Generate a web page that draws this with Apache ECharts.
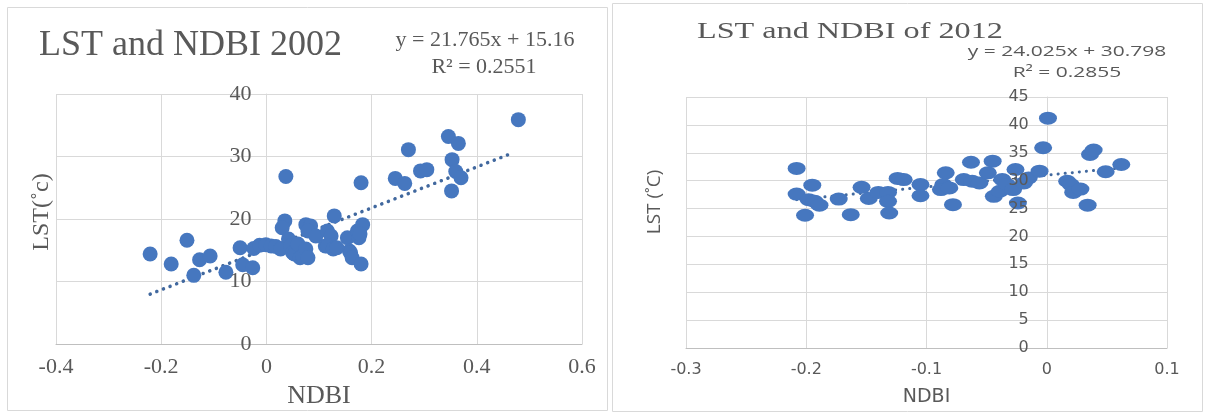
<!DOCTYPE html>
<html>
<head>
<meta charset="utf-8">
<script src="https://cdn.jsdelivr.net/npm/echarts@6/dist/echarts.min.js"></script>
<style>
  html, body { margin: 0; padding: 0; background: #fff; }
  #chart { width: 1205px; height: 414px; }
</style>
</head>
<body>
<div id="chart"></div>
<script>
  // 2002 points: [NDBI, LST]
  const points2002 = [
    [-0.221, 14.4], [-0.181, 12.8], [-0.151, 16.6], [-0.138, 11.0], [-0.127, 13.5],
    [-0.107, 14.1], [-0.077, 11.5], [-0.050, 15.4], [-0.045, 12.7], [-0.026, 12.2],
    [-0.024, 15.3], [-0.013, 15.8], [-0.001, 15.9], [0.009, 15.7], [0.018, 15.6],
    [0.027, 15.2], [0.037, 26.8], [0.035, 19.7], [0.030, 18.6], [0.042, 16.8],
    [0.046, 15.7], [0.050, 14.6], [0.053, 14.4], [0.060, 16.0], [0.064, 13.8],
    [0.069, 14.1], [0.075, 15.2], [0.079, 13.8], [0.075, 19.1], [0.084, 18.9],
    [0.079, 18.1], [0.094, 17.3], [0.112, 15.7], [0.116, 18.1], [0.123, 17.3],
    [0.116, 15.7], [0.127, 15.2], [0.129, 20.5], [0.134, 15.4], [0.154, 17.0],
    [0.158, 14.9], [0.160, 14.6], [0.163, 13.8], [0.173, 18.1], [0.176, 17.0],
    [0.180, 12.8], [0.180, 25.8], [0.183, 19.1], [0.178, 17.6], [0.245, 26.5],
    [0.263, 25.7], [0.270, 31.1], [0.293, 27.7], [0.305, 27.9], [0.346, 33.2],
    [0.365, 32.1], [0.353, 29.5], [0.352, 24.5], [0.360, 27.6], [0.370, 26.6],
    [0.479, 35.9]
  ]
  // 2012 points: [NDBI, LST]
  const points2012 = [
    [-0.208, 32.2], [-0.208, 27.6], [-0.201, 23.8], [-0.195, 29.2], [-0.198, 26.6],
    [-0.193, 26.3], [-0.189, 25.6], [-0.173, 26.7], [-0.163, 23.9], [-0.154, 28.8],
    [-0.148, 26.8], [-0.140, 27.9], [-0.132, 27.9], [-0.132, 26.3], [-0.131, 24.2],
    [-0.124, 30.4], [-0.119, 30.2], [-0.105, 29.3], [-0.105, 27.3], [-0.084, 31.4],
    [-0.086, 29.3], [-0.088, 28.4], [-0.081, 28.7], [-0.078, 25.7], [-0.069, 30.2],
    [-0.063, 33.3], [-0.062, 29.9], [-0.056, 29.6], [-0.049, 31.4], [-0.045, 33.5],
    [-0.044, 27.2], [-0.039, 28.1], [-0.037, 30.2], [-0.033, 29.3], [-0.026, 32.0],
    [-0.028, 28.4], [-0.019, 29.6], [-0.024, 26.0], [-0.015, 30.5], [-0.006, 31.7],
    [-0.003, 35.9], [0.001, 41.2], [0.017, 29.9], [0.020, 29.3], [0.022, 27.9],
    [0.028, 28.5], [0.034, 25.6], [0.036, 34.7], [0.039, 35.5], [0.049, 31.6],
    [0.062, 32.9]
  ]

  // dotted trend lines, end points
  const trend2002 = [[-0.221, 8.0], [0.469, 30.6]]
  const trend2012 = [[-0.208, 26.6], [0.062, 32.3]]

  // axis ranges: [min, max, interval]
  const xRange2002 = [-0.4, 0.6, 0.2]
  const yRange2002 = [0, 40, 10]
  const xRange2012 = [-0.3, 0.1, 0.1]
  const yRange2012 = [0, 45, 5]

  const serif = 'Liberation Serif'
  const sans = 'Open Sans'
  const textColor = '#595959'
  const gridColor = '#d9d9d9'
  const dotColor = '#4677bf'

  const grid1 = { left: 56, top: 94, width: 526, height: 251 }
  const grid2 = { left: 686, top: 97, width: 481, height: 251 }

  // vertical axis crosses at NDBI = 0, like in Excel: shift it inside the plot
  const zeroOffset = (g, r) => -g.width * (0 - r[0]) / (r[1] - r[0])

  // y axis: one for the grid lines (under the dots), one only for the labels (over the dots)
  const yAxisPair = (gridIndex, grid, xr, yr, labelStyle) => [{
    gridIndex: gridIndex,
    type: 'value',
    position: 'left',
    offset: zeroOffset(grid, xr),
    min: yr[0], max: yr[1], interval: yr[2],
    axisLine: { show: true, onZero: false, lineStyle: { color: gridColor } },
    axisTick: { show: false },
    axisLabel: { show: false },
    splitLine: { show: true, lineStyle: { color: gridColor } }
  }, {
    gridIndex: gridIndex,
    type: 'value',
    position: 'left',
    offset: zeroOffset(grid, xr),
    min: yr[0], max: yr[1], interval: yr[2],
    z: 10,
    axisLine: { show: false, onZero: false },
    axisTick: { show: false },
    axisLabel: labelStyle,
    splitLine: { show: false }
  }]

  const y1 = yAxisPair(0, grid1, xRange2002, yRange2002,
    { fontFamily: serif, fontSize: 22, color: textColor, margin: 15 })
  const y2 = yAxisPair(1, grid2, xRange2012, yRange2012,
    { fontFamily: 'DejaVu Sans', fontSize: 16, color: textColor, margin: 18 })

  let chart = echarts.init(document.getElementById('chart'))

  chart.setOption({
    animation: false,
    grid: [grid1, grid2],
    xAxis: [{
      gridIndex: 0,
      type: 'value',
      min: xRange2002[0], max: xRange2002[1], interval: xRange2002[2],
      name: 'NDBI',
      nameLocation: 'middle',
      nameGap: 31,
      nameTextStyle: { fontFamily: serif, fontSize: 26, color: textColor },
      axisLine: { show: true, onZero: false, lineStyle: { color: '#bfbfbf' } },
      axisTick: { show: false },
      axisLabel: { fontFamily: serif, fontSize: 22, color: textColor, margin: 12 },
      splitLine: { show: true, lineStyle: { color: gridColor } }
    }, {
      gridIndex: 1,
      type: 'value',
      min: xRange2012[0], max: xRange2012[1], interval: xRange2012[2],
      name: 'NDBI',
      nameLocation: 'middle',
      nameGap: 40,
      nameTextStyle: { fontFamily: 'DejaVu Sans', fontSize: 19, color: textColor },
      axisLine: { show: true, onZero: false, lineStyle: { color: '#bfbfbf' } },
      axisTick: { show: false },
      axisLabel: { fontFamily: 'DejaVu Sans', fontSize: 16, color: textColor, margin: 14 },
      splitLine: { show: true, lineStyle: { color: gridColor } }
    }],
    yAxis: [y1[0], y2[0], y1[1], y2[1]],
    series: [{
      type: 'line',
      xAxisIndex: 0, yAxisIndex: 0,
      data: trend2002,
      showSymbol: false,
      lineStyle: { color: '#41689e', width: 3.5, type: [0.1, 7], cap: 'round' },
      z: 1
    }, {
      type: 'scatter',
      xAxisIndex: 0, yAxisIndex: 0,
      data: points2002,
      symbolSize: 15,
      itemStyle: { color: dotColor, opacity: 1 },
      z: 2
    }, {
      type: 'line',
      xAxisIndex: 1, yAxisIndex: 1,
      data: trend2012,
      showSymbol: false,
      lineStyle: { color: '#41689e', width: 3, type: [0.1, 7], cap: 'round' },
      z: 1
    }, {
      type: 'scatter',
      xAxisIndex: 1, yAxisIndex: 1,
      data: points2012,
      symbolSize: [18, 13],
      itemStyle: { color: dotColor, opacity: 1 },
      z: 2
    }],
    graphic: [
      // panel frames
      { type: 'rect', shape: { x: 7.5, y: 7.5, width: 600, height: 403 }, style: { fill: 'none', stroke: gridColor, lineWidth: 1 }, z: -1 },
      { type: 'rect', shape: { x: 612.5, y: 3.5, width: 590, height: 408 }, style: { fill: 'none', stroke: gridColor, lineWidth: 1 }, z: -1 },
      // left chart texts
      { type: 'text', x: 39, y: 46, style: { text: 'LST and NDBI 2002', fontFamily: serif, fontSize: 36, fill: textColor, align: 'left', verticalAlign: 'middle' } },
      { type: 'text', x: 485, y: 40, style: { text: 'y = 21.765x + 15.16', fontFamily: serif, fontSize: 22, fill: textColor, align: 'center', verticalAlign: 'middle' } },
      { type: 'text', x: 484, y: 67, style: { text: 'R² = 0.2551', fontFamily: serif, fontSize: 22, fill: textColor, align: 'center', verticalAlign: 'middle' } },
      { type: 'text', x: 42, y: 212, rotation: Math.PI / 2, style: { text: 'LST(˚c)', fontFamily: serif, fontSize: 24, fill: textColor, align: 'center', verticalAlign: 'middle' } },
      // right chart texts (the original panel is stretched sideways)
      { type: 'text', x: 697, y: 32, scaleX: 1.4, style: { text: 'LST and NDBI of 2012', fontFamily: serif, fontSize: 23, fill: textColor, align: 'left', verticalAlign: 'middle' } },
      { type: 'text', x: 1067, y: 52, scaleX: 1.4, style: { text: 'y = 24.025x + 30.798', fontFamily: sans, fontSize: 15, fill: textColor, align: 'center', verticalAlign: 'middle' } },
      { type: 'text', x: 1067, y: 73, scaleX: 1.4, style: { text: 'R² = 0.2855', fontFamily: sans, fontSize: 15, fill: textColor, align: 'center', verticalAlign: 'middle' } },
      { type: 'text', x: 655, y: 202, rotation: Math.PI / 2, style: { text: 'LST (˚C)', fontFamily: sans, fontSize: 19, fill: textColor, align: 'center', verticalAlign: 'middle' } }
    ]
  })
</script>
</body>
</html>
